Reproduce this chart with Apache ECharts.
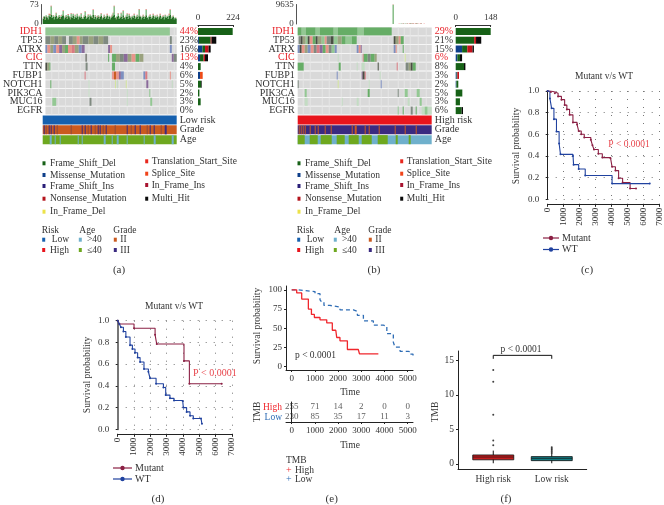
<!DOCTYPE html>
<html>
<head>
<meta charset="utf-8">
<script src="https://cdn.jsdelivr.net/npm/echarts@6/dist/echarts.min.js"></script>
<style>
body { margin: 0; background: #fff; }
#main { width: 664px; height: 505px; }
</style>
</head>
<body>
<div id="main"></div>
<script>
// oncoplot rows
const genesA = ['IDH1', 'TP53', 'ATRX', 'CIC', 'TTN', 'FUBP1', 'NOTCH1', 'PIK3CA', 'MUC16', 'EGFR'];
const pctA = ['44%', '23%', '16%', '13%', '4%', '6%', '5%', '2%', '3%', '0%'];
const pctB = ['29%', '21%', '15%', '6%', '8%', '3%', '2%', '5%', '3%', '6%'];
const tracksA = ['Low risk', 'Grade', 'Age'];
const tracksB = ['High risk', 'Grade', 'Age'];

// cell classes for the runs below
const GRAY = 0, PALE = 1, LG = 2, MG = 3, SL = 4, OL = 5, BG = 6, SA = 7, PL = 8, LM = 9, DK = 10, RS = 11, FG = 12,
  BLU = 13, ORG = 14, NAV = 15, GRS = 16, SKY = 17, RED = 18, BRN = 19;

const paleA = [6, 13, 20, 27, 35, 44, 52, 58, 66, 75, 83, 90, 99, 108, 116, 124, 131];
const paleB = [5, 12, 24, 31, 43, 52, 62, 71, 83, 90, 100, 106, 112, 120, 128];

// [row, first sample, last sample, class]
const runsA = [
  [0,0,127,LG],
  [1,0,5,SL],[1,5,9,OL],[1,9,13,SL],[1,13,17,OL],[1,17,21,SL],[1,24,28,SL],[1,28,32,OL],[1,32,35,SA],[1,35,38,OL],[1,38,44,SL],[1,44,49,OL],[1,49,54,SL],[1,54,59,OL],[1,59,64,SL],[1,127,129,SL],
  [2,0,2,BG],[2,2,5,SA],[2,5,8,OL],[2,8,11,BG],[2,11,14,SA],[2,14,17,PL],[2,17,20,OL],[2,20,23,MG],[2,23,27,SA],[2,27,30,RS],[2,30,34,OL],[2,34,37,BG],[2,37,40,PL],[2,64,66,PL],[2,66,68,SA],[2,127,129,BG],
  [3,41,42,DK],[3,64,65,MG],[3,68,72,MG],[3,72,76,OL],[3,76,80,SL],[3,80,84,PL],[3,84,88,OL],[3,88,92,SA],[3,92,96,MG],[3,96,100,OL],[3,129,131,PL],[3,131,134,SL],
  [4,0,2,DK],[4,2,4,OL],[4,4,5,MG],[4,41,43,SL],[4,68,71,MG],
  [5,40,41,RS],[5,68,70,SA],[5,70,72,ORG],[5,72,75,SA],[5,75,77,PL],[5,77,80,BG],[5,100,102,BG],[5,102,104,RS],[5,127,128,SA],
  [6,5,6,MG],[6,44,45,FG],[6,71,72,LM],[6,73,74,FG],[6,82,83,LM],[6,103,105,PL],[6,129,130,FG],
  [7,44,45,FG],[7,106,107,LG],[7,83,84,FG],
  [8,7,11,LG],[8,45,47,SL],[8,107,109,LG],[8,83,84,FG]
];
const runsB = [
  [0,0,4,MG],[0,4,8,LG],[0,8,18,MG],[0,18,22,LG],[0,22,36,MG],[0,36,40,LG],[0,40,60,MG],[0,60,66,LG],[0,66,94,MG],
  [1,1,3,SL],[1,3,5,DK],[1,5,8,OL],[1,8,10,LG],[1,10,12,DK],[1,12,15,SA],[1,15,18,MG],[1,18,20,DK],[1,20,24,OL],[1,24,27,LG],[1,27,29,SA],[1,29,33,SL],[1,33,36,DK],[1,36,40,LG],[1,40,44,OL],[1,44,48,MG],[1,48,54,LG],[1,54,59,MG],[1,96,98,DK],[1,98,101,OL],[1,101,103,SA],[1,103,106,MG],
  [2,0,2,BG],[2,2,4,DK],[2,4,7,SA],[2,7,10,OL],[2,10,13,BG],[2,13,16,SA],[2,16,19,SL],[2,19,22,RS],[2,22,25,PL],[2,25,28,MG],[2,28,31,SA],[2,31,34,SL],[2,34,37,LG],[2,37,39,BG],[2,59,61,BG],[2,61,63,SA],[2,63,64,PL],[2,96,98,BG],[2,98,99,SA],[2,105,106,MG],
  [3,40,41,FG],[3,65,66,RS],[3,66,70,MG],[3,70,73,SL],[3,73,77,MG],[3,77,79,OL],[3,107,108,LM],
  [4,0,6,MG],[4,41,43,MG],[4,59,60,FG],[4,64,67,FG],[4,80,81,DK],[4,99,100,RS],[4,108,111,SL],[4,111,113,OL],[4,113,115,DK],[4,115,118,MG],
  [5,39,40,BG],[5,64,65,PL],[5,65,67,DK],[5,67,68,RS],[5,82,83,FG],
  [6,0,1,SL],[6,40,41,LM],[6,71,72,FG],[6,83,84,BG],
  [7,7,9,LG],[7,70,72,MG],[7,100,101,SL],[7,107,110,LG],[7,119,122,LG],
  [8,7,10,FG],[8,44,45,FG],[8,59,61,FG],[8,110,112,FG],[8,122,124,LG],
  [9,100,101,LG],[9,105,106,MG],[9,113,115,SL],[9,118,119,MG],[9,124,127,FG],[9,127,130,LG],[9,130,134,FG]
];
const tracksRunsA = [
  [0,0,134,BLU],
  [1,0,134,ORG],
  [1,1,2,NAV],[1,3,4,BRN],[1,6,7,NAV],[1,8,9,NAV],[1,11,12,NAV],[1,14,15,BRN],[1,28,29,BRN],[1,39,40,NAV],[1,42,43,NAV],[1,45,46,BRN],[1,48,49,NAV],[1,52,53,BRN],[1,55,56,NAV],[1,57,58,NAV],[1,60,61,BRN],[1,63,64,NAV],[1,72,73,BRN],[1,84,85,NAV],[1,88,89,BRN],[1,92,93,NAV],[1,97,98,NAV],[1,104,105,BRN],[1,107,108,NAV],[1,111,112,NAV],[1,118,119,BRN],[1,122,124,NAV],
  [2,0,134,GRS],
  [2,7,9,SKY],[2,12,13,SKY],[2,17,18,SKY],[2,35,36,SKY],[2,39,40,SKY],[2,61,63,SKY],[2,69,70,SKY],[2,74,76,SKY],[2,84,85,SKY],[2,101,102,SKY],[2,111,113,SKY],[2,129,131,SKY]
];
const tracksRunsB = [
  [0,0,134,RED],
  [1,0,134,NAV],
  [1,1,2,ORG],[1,3,4,ORG],[1,5,6,ORG],[1,7,8,ORG],[1,12,13,ORG],[1,17,18,ORG],[1,20,21,ORG],[1,27,28,ORG],[1,33,34,ORG],[1,54,55,ORG],[1,57,59,ORG],[1,67,68,ORG],[1,71,72,ORG],[1,81,82,ORG],[1,97,98,ORG],[1,107,108,ORG],[1,118,119,ORG],
  [2,0,134,SKY],
  [2,0,7,GRS],[2,12,20,GRS],[2,23,34,GRS],[2,39,47,GRS],[2,51,61,GRS],[2,64,74,GRS],[2,80,90,GRS],[2,98,100,GRS],[2,111,113,GRS]
];

// mutation burden per sample, top bars
const topDarkA = [20,26,16,28,24,18,30,26,34,22,
  28,18,26,32,20,24,28,19,26,30,
  33,18,24,28,20,30,25,18,26,22,
  32,19,27,22,29,18,26,24,28,20,
  20,26,32,19,24,28,18,30,26,22,
  34,20,27,18,24,28,20,26,30,18,
  22,28,19,25,30,20,26,18,24,28,
  32,36,22,18,26,30,20,24,28,19,
  33,22,18,26,28,20,30,24,18,26,
  22,30,19,25,28,20,32,26,18,24,
  28,20,26,33,22,18,26,28,20,24,
  30,19,26,22,28,18,25,30,20,24,
  26,18,28,22,26,20,30,34,19,24,
  26,18,22,20];
const topLightA = [2,4,2,5,3,2,6,10,32,3,
  5,2,4,8,3,3,6,2,4,6,
  16,2,3,6,3,5,4,2,12,3,
  5,2,6,3,8,2,4,3,10,2,
  3,5,14,2,3,6,2,5,5,3,
  18,3,6,2,3,5,2,4,8,2,
  3,5,2,4,6,3,4,2,3,5,
  9,30,3,2,4,8,3,3,12,2,
  16,3,2,5,9,2,6,3,2,4,
  3,6,2,3,6,2,22,4,2,3,
  5,2,3,20,3,2,4,6,2,3,
  6,2,5,3,5,2,3,6,3,3,
  4,2,6,3,4,2,6,18,2,3,
  5,2,2,2];
const topRedA = [1,0,1,0,1,0,2,1,2,0,
  1,0,1,2,0,1,0,1,2,0,
  2,0,1,0,1,2,0,1,2,0,
  1,0,2,0,1,0,1,0,2,1,
  0,1,2,0,1,2,0,1,0,1,
  2,0,1,0,2,0,1,1,2,0,
  1,2,0,1,2,0,1,0,1,2,
  1,2,0,1,0,2,0,1,2,0,
  2,1,0,1,2,0,2,1,0,1,
  0,2,0,1,1,0,2,1,0,1,
  2,0,1,2,0,0,1,2,0,1,
  2,0,1,0,2,0,1,2,0,1,
  2,0,1,0,1,0,2,2,0,1,
  1,0,0,1];
const topDarkB = [20,30,15,25,40,18,22,35,16,28,
  20,30,15,25,40,18,22,35,16,28,
  24,18,30,22,15,40,26,20,32,18,
  24,18,30,22,15,40,26,20,32,18,
  22,35,16,28,20,30,15,25,40,18,
  22,35,16,28,20,30,15,25,40,18,
  24,18,30,22,15,40,26,20,32,18,
  24,18,30,22,15,40,26,20,32,18,
  22,35,16,28,20,30,15,25,40,18,
  22,35,16,28,20,60,30,25,40,18,
  30,60,40,80,60,90,40,70,50,90,
  40,60,90,70,50,80,60,40,90,70,
  50,40,60,80,40,30,50,40,30,40,
  30,30,20,30];
const topLightB = [0,0,0,0,0,0,0,0,0,0,
  0,0,0,0,0,0,0,0,0,0,
  0,0,0,0,0,0,0,0,0,0,
  0,0,0,0,0,0,0,0,0,0,
  0,0,0,0,0,0,0,0,0,0,
  0,0,0,0,0,0,0,0,0,0,
  0,0,0,0,0,0,0,0,0,0,
  0,0,0,0,0,0,0,0,0,0,
  0,0,0,0,0,0,0,0,0,0,
  0,0,0,0,0,9500,0,0,0,0,
  0,0,0,0,0,0,0,0,0,0,
  0,0,0,0,0,0,0,0,0,0,
  0,0,0,0,0,0,0,0,0,0,
  0,0,0,0];
const topRedB = [0,0,0,0,0,0,0,0,0,0,
  0,0,0,0,0,0,0,0,0,0,
  0,0,0,0,0,0,0,0,0,0,
  0,0,0,0,0,0,0,0,0,0,
  0,0,0,0,0,0,0,0,0,0,
  0,0,0,0,0,0,0,0,0,0,
  0,0,0,0,0,0,0,0,0,0,
  0,0,0,0,0,0,0,0,0,0,
  0,0,0,0,0,0,0,0,0,0,
  0,0,0,0,0,120,0,0,0,0,
  0,60,0,100,0,120,0,80,0,140,
  0,80,140,0,60,120,0,60,120,0,
  60,0,80,120,0,0,60,0,0,0,
  0,0,0,0];

// mutated sample counts per gene, side bars
const sideBlueA = [0,6,28,13,0,13,0,0,0,0];
const sideGreenA = [222,75,17,23,17,0,20,9,17,0];
const sideRedA = [0,6,23,9,0,0,0,0,0,0];
const sideOrangeA = [0,0,0,0,0,17,0,0,0,0];
const sideBlackA = [0,30,13,19,0,0,4,0,0,0];
const sideBlueB = [0,0,27,7,0,4,3,0,0,0];
const sideGreenB = [148,78,22,11,35,3,8,28,18,25];
const sideRedB = [0,8,22,0,0,7,0,0,0,0];
const sideOrangeB = [0,0,0,0,0,0,0,0,0,0];
const sideBlackB = [0,22,6,9,6,0,0,0,0,6];

// survival curves [time, probability]
const mutantC = [[0,1],[200,0.99],[450,0.98],[650,0.95],[860,0.92],[1060,0.87],[1200,0.83],[1370,0.78],[1580,0.71],[1840,0.69],[1940,0.63],[2100,0.6],[2290,0.57],[2700,0.55],[2800,0.5],[2900,0.46],[3170,0.42],[3420,0.385],[3930,0.38],[4030,0.3],[4240,0.265],[4440,0.195],[4690,0.155],[5160,0.1],[5530,0.1]];
const wtC = [[0,1],[140,0.93],[245,0.84],[390,0.74],[550,0.625],[715,0.515],[800,0.415],[1580,0.4],[1620,0.32],[1940,0.28],[2350,0.22],[4030,0.145],[6390,0.145]];
const mutantD = [[0,1],[100,0.97],[1000,0.93],[2290,0.87],[2390,0.785],[4060,0.63],[4390,0.42],[6370,0.42]];
const wtD = [[0,1],[100,0.97],[200,0.94],[350,0.9],[500,0.85],[755,0.775],[900,0.74],[1060,0.705],[1220,0.66],[1370,0.62],[1610,0.555],[1880,0.53],[1980,0.47],[2350,0.42],[2800,0.385],[2940,0.315],[3200,0.285],[3450,0.265],[3980,0.26],[4020,0.2],[4220,0.16],[4430,0.125],[4630,0.1],[5100,0.1],[5160,0.05]];
const highE = [[0,100],[215,96],[431,88],[718,75],[850,68],[977,64],[1220,61],[1510,57],[1750,47.4],[1900,45],[1940,38],[2080,33.6],[2260,33.6],[2400,22.4],[2870,21.5],[2920,16.8],[3735,16.8]];
const lowE = [[0,100],[300,99],[573,97.8],[1004,95],[1220,87],[1293,84],[1390,79.7],[1650,77.6],[2080,74],[2660,72],[2830,66.8],[3090,59.5],[3520,54],[3950,53],[4100,43],[4380,32],[4450,25.4],[4670,20],[5030,19.4],[5130,16.4],[5228,13]];

// number at risk table
const tableTimes = [0, 1000, 2000, 3000, 4000, 5000];
const tableHigh = [255, 71, 14, 2, 0, 0];
const tableLow = [230, 85, 35, 17, 11, 3];
const timeTicks = [0, 1000, 2000, 3000, 4000, 5000];
const survTicks = [0, 25, 50, 75, 100];

// TMB boxes [category, low, q1, median, q3, high]
const boxCats = ['High risk', 'Low risk'];
const boxHigh = [0, 0.1, 0.6, 1, 1.3, 1.93];
const boxLow = [1, 0.1, 0.48, 0.8, 1.06, 1.5];
const outliersHigh = [2.7, 3.4, 7.1, 11.9, 13.6];
const outliersLow = [1.6, 1.8, 2.0, 2.2, 2.4];
const tmbTicks = [0, 5, 10, 15];
const bracket = [[0, 15.2], [0, 15.7], [1, 15.7], [1, 15.2]];

// legend labels
const mutLeft = ['Frame_Shift_Del', 'Missense_Mutation', 'Frame_Shift_Ins', 'Nonsense_Mutation', 'In_Frame_Del'];
const mutRight = ['Translation_Start_Site', 'Splice_Site', 'In_Frame_Ins', 'Multi_Hit'];

const FONT = 'Liberation Serif';
const INK = '#333';
const cellColors = ['#d9d9d9', '#e5e5e5', '#93c893', '#66ad66', '#7f8a80', '#9aa27e', '#7d8fc0', '#e8958a', '#8a6a9a', '#d3e59c', '#4a4f44', '#d97a82', '#c3dcc3',
  '#1660ae', '#ca5a1f', '#3a2a80', '#6ea81f', '#6fb0cc', '#e8141c', '#8f4a3c'];
const plain = function (v) { return String(v); };

var grid = [], xAxis = [], yAxis = [], series = [], graphic = [];

function text(x, y, str, o) {
  o = o || {};
  graphic.push({
    type: 'text', x: x, y: y, rotation: o.rotate || 0, silent: true,
    style: { text: str, fontFamily: FONT, fontSize: o.size || 9.5, fill: o.color || INK, align: o.align || 'left', verticalAlign: 'middle' }
  });
}
function mark(x, y, color) {
  graphic.push({ type: 'rect', x: x - 1.5, y: y - 2, shape: { x: 0, y: 0, width: 3, height: 4 }, style: { fill: color }, silent: true });
}
function legendLine(x1, x2, y, color, label) {
  graphic.push({ type: 'line', shape: { x1: x1, y1: y, x2: x2, y2: y }, style: { stroke: color, lineWidth: 1.2 }, silent: true });
  graphic.push({ type: 'circle', shape: { cx: (x1 + x2) / 2, cy: y, r: 2.2 }, style: { fill: color }, silent: true });
  text(x2 + 3, y, label, { size: 10 });
}

function runSeries(xi, yi, rows, z) {
  return {
    type: 'custom', xAxisIndex: xi, yAxisIndex: yi, silent: true, z: z || 2,
    encode: { x: [1, 2], y: 0 }, data: rows,
    renderItem: function (params, api) {
      var r = rows[params.dataIndex];
      var a = api.coord([r[1], r[0]]);
      var b = api.coord([r[2], r[0]]);
      var h = api.size([0, 1])[1];
      return { type: 'rect', shape: { x: a[0], y: a[1] - h / 2 + 0.4, width: b[0] - a[0], height: h - 0.8 }, style: { fill: cellColors[r[3]] } };
    }
  };
}

function oncoplot(p) {
  var left = p.left, w = 134;
  var samples = p.topDark.map(function (v, i) { return i; });

  // per sample bars
  grid.push({ left: left, top: 2, width: w, height: 22 });
  var gi = grid.length - 1;
  xAxis.push({ gridIndex: gi, type: 'category', data: samples, show: false });
  yAxis.push({
    gridIndex: gi, type: 'value', min: 0, max: p.topMax, interval: p.topMax, offset: 1,
    axisLine: { show: true, lineStyle: { color: '#555', width: 1 } }, axisTick: { show: false }, splitLine: { show: false },
    axisLabel: { fontFamily: FONT, fontSize: 9, color: INK, margin: 3, formatter: plain }
  });
  var xi = xAxis.length - 1, yi = yAxis.length - 1;
  [[p.topDark, '#1f6b1f'], [p.topLight, '#86bd86'], [p.topRed, '#e8585a']].forEach(function (s) {
    series.push({ type: 'bar', xAxisIndex: xi, yAxisIndex: yi, stack: 't' + gi, data: s[0], barWidth: 1.5, itemStyle: { color: s[1] }, silent: true });
  });

  // gene by sample matrix
  grid.push({ left: left, top: 27, width: w, height: 88 });
  gi = grid.length - 1;
  xAxis.push({ gridIndex: gi, type: 'value', min: 0, max: w, show: false });
  yAxis.push({
    gridIndex: gi, type: 'category', data: genesA, inverse: true, axisLine: { show: false }, axisTick: { show: false },
    axisLabel: { interval: 0, fontFamily: FONT, fontSize: 10, margin: 3, color: function (v) { return v === 'IDH1' || v === 'CIC' ? '#e8232a' : INK; } }
  });
  yAxis.push({
    gridIndex: gi, type: 'category', data: p.pct.map(function (v, i) { return i + ':' + v; }), inverse: true, position: 'right', axisLine: { show: false }, axisTick: { show: false },
    axisLabel: {
      interval: 0, fontFamily: FONT, fontSize: 10, margin: 3,
      formatter: function (v) { return v.split(':')[1]; },
      color: function (v) { return v.indexOf('0:') === 0 || v.indexOf('3:') === 0 ? '#e8232a' : INK; }
    }
  });
  xi = xAxis.length - 1; yi = yAxis.length - 2;
  var back = [];
  genesA.forEach(function (g, row) {
    back.push([row, 0, w, GRAY]);
    p.pale.forEach(function (s) { back.push([row, s, s + 1, PALE]); });
  });
  series.push(runSeries(xi, yi, back, 1));
  series.push(runSeries(xi, yi, p.runs, 2));
  // keeps the percent axis alive
  series.push({ type: 'scatter', xAxisIndex: xi, yAxisIndex: yi + 1, data: [], silent: true });

  // annotation tracks
  grid.push({ left: left, top: 115, width: w, height: 29.6 });
  gi = grid.length - 1;
  xAxis.push({ gridIndex: gi, type: 'value', min: 0, max: w, show: false });
  yAxis.push({
    gridIndex: gi, type: 'category', data: p.tracks, inverse: true, position: 'right', axisLine: { show: false }, axisTick: { show: false },
    axisLabel: { interval: 0, fontFamily: FONT, fontSize: 10, margin: 3, color: INK }
  });
  series.push(runSeries(xAxis.length - 1, yAxis.length - 1, p.trackRuns, 2));

  // side bars
  grid.push({ left: p.sideLeft, top: 27, width: 35, height: 88 });
  gi = grid.length - 1;
  xAxis.push({
    gridIndex: gi, type: 'value', position: 'top', min: 0, max: p.sideMax, interval: p.sideMax, offset: 2, splitLine: { show: false },
    axisLine: { show: true, lineStyle: { color: '#333', width: 1 } }, axisTick: { show: true, length: 2, inside: true, lineStyle: { color: '#333' } },
    axisLabel: { fontFamily: FONT, fontSize: 9, color: INK, margin: 3, formatter: plain }
  });
  yAxis.push({ gridIndex: gi, type: 'category', data: genesA, inverse: true, show: false });
  xi = xAxis.length - 1; yi = yAxis.length - 1;
  [[p.side[0], '#0e3f8a'], [p.side[1], '#176117'], [p.side[2], '#c4121c'], [p.side[3], '#ee4a16'], [p.side[4], '#0a0a0a']].forEach(function (s) {
    series.push({ type: 'bar', xAxisIndex: xi, yAxisIndex: yi, stack: 's' + gi, data: s[0], barWidth: 7, itemStyle: { color: s[1] }, silent: true });
  });

  // legends
  var dx = p.left - 42.7;
  var leftY = [163.3, 175, 186, 198.7, 211.7], rightY = [161.3, 173.7, 185, 198.7];
  var leftC = ['#176117', '#0e3f8a', '#2a1f78', '#b4141c', '#ece24a'], rightC = ['#e8281e', '#f0441a', '#a81430', '#0a0a0a'];
  mutLeft.forEach(function (n, i) { mark(44 + dx, leftY[i], leftC[i]); text(50 + dx, leftY[i], n); });
  mutRight.forEach(function (n, i) { mark(146.7 + dx, rightY[i], rightC[i]); text(151.7 + dx, rightY[i], n); });
  text(41.7 + dx, 230, 'Risk');
  text(79.3 + dx, 230, 'Age');
  text(113.3 + dx, 230, 'Grade');
  mark(43.7 + dx, 239.7, '#1660ae'); text(51.7 + dx, 239.7, 'Low');
  mark(43.7 + dx, 250, '#e8141c'); text(50 + dx, 250, 'High');
  mark(80.3 + dx, 239.7, '#6fb0cc'); text(87 + dx, 239.7, '>40');
  mark(80.3 + dx, 250, '#6ea81f'); text(87 + dx, 250, '≤40');
  mark(115.3 + dx, 239.7, '#ca5a1f'); text(120.3 + dx, 239.7, 'II');
  mark(115.3 + dx, 250, '#3a2a80'); text(120.3 + dx, 250, 'III');
  text(p.capX, 270, p.cap, { align: 'center', size: 11 });
}

oncoplot({
  left: 42.7, sideLeft: 198, topMax: 73, sideMax: 224, pct: pctA, tracks: tracksA, pale: paleA, runs: runsA, trackRuns: tracksRunsA,
  topDark: topDarkA, topLight: topLightA, topRed: topRedA,
  side: [sideBlueA, sideGreenA, sideRedA, sideOrangeA, sideBlackA], cap: '(a)', capX: 119
});
oncoplot({
  left: 297.7, sideLeft: 455.7, topMax: 9635, sideMax: 148, pct: pctB, tracks: tracksB, pale: paleB, runs: runsB, trackRuns: tracksRunsB,
  topDark: topDarkB, topLight: topLightB, topRed: topRedB,
  side: [sideBlueB, sideGreenB, sideRedB, sideOrangeB, sideBlackB], cap: '(b)', capX: 374
});

function kmPanel(p) {
  grid.push({ left: p.left, top: p.top, width: p.width, height: p.height });
  var gi = grid.length - 1;
  var dots = { show: true, lineStyle: { color: '#777', type: [1, 7], width: 1 } };
  xAxis.push({
    gridIndex: gi, type: 'value', min: 0, max: 7000, interval: 1000, offset: 4.5, splitLine: dots,
    axisLine: { show: true, onZero: false, lineStyle: { color: '#222', width: 1 } }, axisTick: { length: 3, lineStyle: { color: '#222' } },
    axisLabel: { rotate: 90, fontFamily: FONT, fontSize: 9, color: INK, margin: 4, formatter: plain }
  });
  yAxis.push({
    gridIndex: gi, type: 'value', min: 0, max: 1, interval: 0.2, offset: 4.5, splitLine: dots,
    axisLine: { show: true, lineStyle: { color: p.axisColor, width: p.axisWidth } }, axisTick: { length: 2, lineStyle: { color: '#222' } },
    axisLabel: { fontFamily: FONT, fontSize: 9, color: INK, margin: 4, formatter: function (v) { return v.toFixed(1); } }
  });
  var xi = xAxis.length - 1, yi = yAxis.length - 1;
  [[p.mutant, '#8b2044'], [p.wt, '#20429f']].forEach(function (s) {
    series.push({
      type: 'line', step: 'end', xAxisIndex: xi, yAxisIndex: yi, data: s[0], symbol: 'circle', symbolSize: 2, showSymbol: true,
      lineStyle: { color: s[1], width: 1.1 }, itemStyle: { color: s[1] }, silent: true, z: 3
    });
  });
}
kmPanel({ left: 547.7, top: 91, width: 114, height: 108.3, mutant: mutantC, wt: wtC, axisColor: '#222', axisWidth: 1 });
kmPanel({ left: 117.7, top: 320.7, width: 114.3, height: 108.6, mutant: mutantD, wt: wtD, axisColor: '#777', axisWidth: 2 });

text(604, 76, 'Mutant v/s WT', { align: 'center' });
text(516, 146, 'Survival probability', { rotate: Math.PI / 2, align: 'center' });
text(629, 144.5, 'P < 0.0001', { align: 'center', color: '#e8454c' });
legendLine(543, 559, 238, '#8b2044', 'Mutant');
legendLine(543, 559, 249.5, '#20429f', 'WT');
text(587, 270, '(c)', { align: 'center', size: 11 });

text(174, 306, 'Mutant v/s WT', { align: 'center' });
text(87, 375, 'Survival probability', { rotate: Math.PI / 2, align: 'center' });
text(193, 373, 'P < 0.0001', { color: '#e8454c', size: 10 });
legendLine(113, 132, 468, '#8b2044', 'Mutant');
legendLine(113, 132, 479, '#20429f', 'WT');
text(158, 499, '(d)', { align: 'center', size: 11 });

// panel e, survival
grid.push({ left: 286, top: 286, width: 127, height: 84 });
var eG = grid.length - 1;
var eLabel = { fontFamily: FONT, fontSize: 9, color: INK, margin: 4, formatter: plain };
xAxis.push({
  gridIndex: eG, type: 'value', min: -246, max: 5228, splitLine: { show: false },
  axisLine: { show: true, onZero: false, lineStyle: { color: '#222' } }, axisTick: { show: true, length: 2, customValues: timeTicks },
  axisLabel: Object.assign({ customValues: timeTicks }, eLabel)
});
yAxis.push({
  gridIndex: eG, type: 'value', min: -4.3, max: 105, splitLine: { show: false },
  axisLine: { show: true, onZero: false, lineStyle: { color: '#222' } }, axisTick: { show: true, length: 2, customValues: survTicks },
  axisLabel: Object.assign({ customValues: survTicks }, eLabel)
});
series.push({ type: 'line', step: 'end', xAxisIndex: xAxis.length - 1, yAxisIndex: yAxis.length - 1, data: lowE, showSymbol: false, lineStyle: { color: '#2f6db5', width: 1.3, type: [4, 3] }, silent: true });
series.push({ type: 'line', step: 'end', xAxisIndex: xAxis.length - 1, yAxisIndex: yAxis.length - 1, data: highE, showSymbol: false, lineStyle: { color: '#f0262c', width: 1.3 }, silent: true });

// panel e, risk table
grid.push({ left: 286, top: 402, width: 127, height: 20 });
eG = grid.length - 1;
xAxis.push({
  gridIndex: eG, type: 'value', min: -246, max: 5228, splitLine: { show: false },
  axisLine: { show: true, onZero: false, lineStyle: { color: '#222' } }, axisTick: { show: true, length: 2, customValues: timeTicks },
  axisLabel: Object.assign({ customValues: timeTicks }, eLabel)
});
yAxis.push({
  gridIndex: eG, type: 'category', data: ['Low', 'High'], axisLine: { show: true, lineStyle: { color: '#222' } }, axisTick: { show: false },
  axisLabel: { interval: 0, fontFamily: FONT, fontSize: 9.5, margin: 4, color: function (v) { return v === 'High' ? '#f0262c' : '#2f6db5'; } }
});
[[tableLow, 0], [tableHigh, 1]].forEach(function (s) {
  series.push({
    type: 'scatter', xAxisIndex: xAxis.length - 1, yAxisIndex: yAxis.length - 1, symbolSize: 1, itemStyle: { color: 'rgba(0,0,0,0)' }, silent: true,
    data: s[0].map(function (v, i) { return [tableTimes[i], s[1], v]; }),
    label: { show: true, position: 'inside', fontFamily: FONT, fontSize: 9, color: INK, formatter: function (q) { return q.value[2]; } },
    labelLayout: { hideOverlap: false }
  });
});
text(257, 326, 'Survival probability', { rotate: Math.PI / 2, align: 'center' });
text(295, 355, 'p < 0.0001', { size: 9.5 });
text(350, 392, 'Time', { align: 'center' });
text(350, 445, 'Time', { align: 'center' });
text(257, 412, 'TMB', { rotate: Math.PI / 2, align: 'center' });
text(286, 460.7, 'TMB');
text(288.7, 470, '+', { align: 'center', color: '#f0262c', size: 10 });
text(295, 470, 'High');
text(288.7, 479, '+', { align: 'center', color: '#2f6db5', size: 10 });
text(295, 479, 'Low');
text(331.7, 499, '(e)', { align: 'center', size: 11 });

// panel f, box plot
grid.push({ left: 464, top: 351, width: 117, height: 118 });
var fG = grid.length - 1;
xAxis.push({
  gridIndex: fG, type: 'category', data: boxCats, axisLine: { show: false }, axisTick: { show: false },
  axisLabel: { interval: 0, fontFamily: FONT, fontSize: 9.5, color: INK, margin: 5 }
});
yAxis.push({
  gridIndex: fG, type: 'value', min: -0.73, max: 16.33, offset: 6, splitLine: { show: false },
  axisLine: { show: true, onZero: false, lineStyle: { color: '#222' } }, axisTick: { show: true, length: 2, customValues: tmbTicks },
  axisLabel: { fontFamily: FONT, fontSize: 9.5, color: INK, margin: 4, customValues: tmbTicks, formatter: plain }
});
var fx = xAxis.length - 1, fy = yAxis.length - 1;
const boxFills = ['#c41c1e', '#127a80'];
series.push({
  type: 'custom', xAxisIndex: fx, yAxisIndex: fy, silent: true, z: 4,
  encode: { x: 0, y: [1, 2, 3, 4, 5] }, data: [boxHigh, boxLow],
  renderItem: function (params, api) {
    var cat = api.value(0);
    var cx = api.coord([cat, 0])[0];
    var half = 20.5;
    var yLow = api.coord([cat, api.value(1)])[1], yQ1 = api.coord([cat, api.value(2)])[1], yMed = api.coord([cat, api.value(3)])[1],
      yQ3 = api.coord([cat, api.value(4)])[1], yHigh = api.coord([cat, api.value(5)])[1];
    return {
      type: 'group', children: [
        { type: 'line', shape: { x1: cx, y1: yLow, x2: cx, y2: yHigh }, style: { stroke: '#111', lineWidth: 1 } },
        { type: 'rect', shape: { x: cx - half, y: yQ3, width: half * 2, height: yQ1 - yQ3 }, style: { fill: boxFills[params.dataIndex], stroke: '#111', lineWidth: 0.8 } },
        { type: 'line', shape: { x1: cx - half, y1: yMed, x2: cx + half, y2: yMed }, style: { stroke: '#111', lineWidth: 0.6 } }
      ]
    };
  }
});
series.push({
  type: 'scatter', xAxisIndex: fx, yAxisIndex: fy, symbolSize: 2, itemStyle: { color: '#111' }, silent: true,
  data: outliersHigh.map(function (v) { return [0, v]; }).concat(outliersLow.map(function (v) { return [1, v]; }))
});
series.push({ type: 'line', xAxisIndex: fx, yAxisIndex: fy, data: bracket, showSymbol: false, lineStyle: { color: '#111', width: 1 }, silent: true });

// baseline running past the two boxes
grid.push({ left: 458, top: 351, width: 128.7, height: 118 });
xAxis.push({ gridIndex: grid.length - 1, type: 'value', min: 0, max: 1, axisLabel: { show: false }, axisTick: { show: false }, splitLine: { show: false }, axisLine: { show: true, onZero: false, lineStyle: { color: '#222' } } });
yAxis.push({ gridIndex: grid.length - 1, type: 'value', min: 0, max: 1, show: false });

text(521, 349, 'p < 0.0001', { align: 'center' });
text(435, 412, 'TMB', { rotate: Math.PI / 2, align: 'center' });
text(506, 499, '(f)', { align: 'center', size: 11 });

var chart = echarts.init(document.getElementById('main'));
chart.setOption({ animation: false, backgroundColor: '#fff', grid: grid, xAxis: xAxis, yAxis: yAxis, series: series, graphic: { elements: graphic } });
</script>
</body>
</html>
